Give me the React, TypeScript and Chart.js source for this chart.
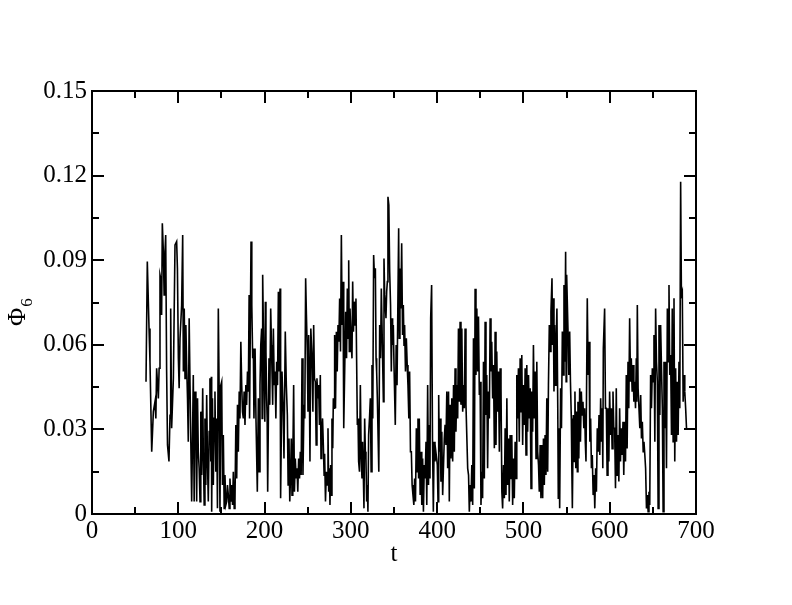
import React, { useEffect, useRef } from "react";
import { Chart, registerables } from "chart.js";

Chart.register(...registerables);

// [t, Φ6] samples, segment by segment
const segment1: [number, number][] = [
  [62.6,0.0469],[64.1,0.0895],[66.1,0.0658],[67.2,0.054],[69.2,0.0221],[71.1,0.0363],[73.0,0.0398],[74.0,0.0339],
  [74.9,0.0517],[76.9,0.041],[77.8,0.0517],[78.8,0.0848],[79.6,0.0836],[80.7,0.0706],[81.5,0.1031],[82.7,0.093],
  [83.6,0.0777],[84.6,0.093],[85.4,0.0989],[86.5,0.0505],[87.5,0.0245],[89.2,0.0186],[90.4,0.035],[91.2,0.0729],
  [92.3,0.0304],[94.3,0.0481],[96.2,0.0954],[98.1,0.0966],[99.0,0.0871],[100.1,0.0552],[101.0,0.0446],[102.0,0.0623],
  [103.9,0.0741],[105.1,0.0989],[105.9,0.0505],[106.9,0.0729],[107.8,0.0481],[108.8,0.067],[109.7,0.0528],[110.7,0.041],
  [111.6,0.0256],[112.6,0.0694],[113.6,0.0457],[115.5,0.0044],[116.4,0.0245],[117.4,0.0493],[118.4,0.0044],[119.4,0.0434],
  [120.4,0.0339],[121.3,0.0044],[122.3,0.041],[123.2,0.0221],[124.2,0.0162],[125.2,0.0044],[126.1,0.0363],[127.1,0.0138],
  [128.3,0.0446],[129.0,0.0221],[130.0,0.0032],[130.9,0.0339],[131.9,0.0103],[132.9,0.0422],[133.9,0.0174],[134.8,0.0044],
  [135.8,0.0292],[136.7,0.0481],[137.7,0.0186],[138.3,0.0487],[138.7,0.0008],[139.6,0.041],[140.6,0.0103],[141.6,0.0339],
  [142.5,0.0434],[143.5,0.015],[144.5,0.0339],[145.4,0.002],[146.4,0.0729],[147.3,0.0457],[148.3,0.0008],[149.3,0.0457],
  [150.3,0.0469],[151.2,0.0103],[152.2,0.028],[153.2,0.002],[154.1,0.0138],[155.1,0.0032],[156.1,0.0044],[157.0,0.0103],
  [158.0,0.0067],[159.0,0.002],[159.9,0.0126],[160.9,0.0044],[161.9,0.0103],[162.9,0.0032],[163.8,0.015],[164.8,0.002],
  [165.7,0.0044],[166.7,0.0316],[167.7,0.0126],[168.6,0.0387],[169.6,0.0221],[170.6,0.0434],[171.5,0.0339],[172.5,0.0611],
  [173.5,0.0457],[174.4,0.0363],[175.4,0.0339],[176.3,0.0434],[177.3,0.0316],[178.3,0.0457],[179.2,0.0387],[180.2,0.0505],
  [181.2,0.0434],[182.1,0.0777],[182.6,0.0339],[184.3,0.0966],[185.2,0.0741],[186.2,0.0552],[187.0,0.0587],[187.7,0.0339],
  [189.0,0.0587],[190.1,0.0327],[191.6,0.0079],[192.8,0.041],[193.7,0.015],[194.7,0.0457],[195.6,0.0599],[196.6,0.0658],
  [197.2,0.0339],[197.8,0.0848],[199.3,0.0505],[200.3,0.0327],[200.9,0.0753],[201.6,0.0576],[202.4,0.041],[203.0,0.0339],
  [203.6,0.0079],[205.1,0.0552],[206.0,0.0387],[207.1,0.0729],[208.0,0.0599],[208.6,0.0505],[209.4,0.0387],[210.2,0.0658],
  [211.2,0.0457],[212.1,0.0505],[213.1,0.0339],[214.0,0.054],[215.0,0.0457],[216.0,0.0788],[217.0,0.0505],[217.9,0.08],
];

const segment2: [number, number][] = [
  [218.6,0.0056],[220.2,0.0505],[221.6,0.0363],[222.5,0.0197],[224.0,0.0647],[225.2,0.0457],[226.4,0.0351],[227.3,0.0103],
  [228.3,0.0268],[229.2,0.0044],[230.2,0.015],[231.0,0.0268],[231.8,0.0067],[232.7,0.0174],[233.7,0.0457],[234.6,0.0079],
  [235.6,0.0197],[236.6,0.0126],[237.6,0.0162],[238.5,0.0079],[239.5,0.0197],[240.5,0.0126],[241.4,0.0221],[242.4,0.0138],
  [243.4,0.0552],[244.5,0.0138],[245.7,0.0387],[246.6,0.0339],[247.6,0.0836],[248.5,0.0706],[249.5,0.0576],[250.3,0.0363],
  [251.1,0.0635],[251.8,0.0505],[252.6,0.0186],[253.6,0.0658],[255.0,0.0552],[256.0,0.0363],[256.9,0.067],[257.8,0.0481],
  [258.8,0.0469],[259.8,0.0245],[260.7,0.0481],[261.7,0.041],[262.7,0.0457],[263.6,0.0316],[264.6,0.0493],[265.4,0.0197],
  [266.2,0.0292],[267.2,0.0339],[268.1,0.0245],[269.0,0.0138],[269.6,0.0214],[270.6,0.0044],[271.6,0.015],[272.5,0.0103],
  [273.5,0.0304],[274.3,0.0079],[275.0,0.0162],[275.8,0.0032],[276.6,0.0174],[277.4,0.0067],[278.1,0.0339],[279.0,0.0233],
  [279.7,0.041],[280.5,0.0375],[281.2,0.0635],[282.2,0.0375],[283.2,0.0646],[284.2,0.0505],[285.1,0.067],[286.1,0.0611],
  [287.0,0.0764],[288.0,0.0576],[289.0,0.0989],[289.9,0.067],[290.9,0.0824],[291.5,0.067],[292.0,0.0304],[294.0,0.0717],
  [295.0,0.0552],[295.9,0.08],[296.7,0.0623],[297.5,0.09],[298.2,0.0576],[299.0,0.0729],[300.5,0.0599],[301.3,0.0552],
  [302.1,0.0824],[303.0,0.0646],[304.0,0.0753],[305.0,0.067],[305.9,0.0764],[306.7,0.054],[307.5,0.0316],[308.3,0.0339],
  [309.0,0.0186],[310.0,0.015],[311.0,0.0457],[312.0,0.0198],[312.9,0.0126],[313.6,0.0256],[314.4,0.015],[315.2,0.002],
  [316.0,0.0339],[316.8,0.0221],[317.5,0.0198],[318.3,0.0044],[319.1,0.0103],[319.8,0.0008],[320.6,0.028],[321.6,0.0339],
  [322.6,0.041],[323.5,0.015],[324.5,0.0528],[325.4,0.0339],[326.4,0.0918],[327.4,0.0836],[328.4,0.0871],[329.2,0.0552],
  [329.9,0.0505],[330.7,0.041],[331.4,0.041],[332.4,0.015],[333.4,0.067],[334.4,0.0552],[335.3,0.08],[336.1,0.067],
  [336.9,0.067],[337.7,0.0398],[338.4,0.0906],[339.2,0.0777],[339.9,0.0741],[340.7,0.0694],[341.5,0.0788],[342.3,0.0824],
  [343.0,0.1125],[344.0,0.1096],[345.0,0.0859],[346.0,0.0741],[346.9,0.0505],[347.7,0.0694],[348.4,0.0599],[349.2,0.067],
  [350.0,0.0528],[351.5,0.0316],[352.5,0.0599],[353.5,0.0457],[355.4,0.1013],[356.1,0.0623],[356.9,0.0871],[357.9,0.0729],
  [358.9,0.096],[359.9,0.0635],[360.8,0.0741],[361.6,0.0599],[362.3,0.067],[363.3,0.0505],[364.3,0.0623],[365.3,0.0528],
  [366.2,0.0457],[367.2,0.0339],[368.1,0.0505],[369.1,0.0221],[370.1,0.0221],[371.0,0.0103],[372.0,0.0067],[373.0,0.0032],
  [373.9,0.0126],[374.9,0.0044],[375.9,0.0304],[376.8,0.015],[377.8,0.0339],[378.5,0.0126],
];

const segment3: [number, number][] = [
  [379.3,0.0339],[380.3,0.0067],[381.3,0.0221],[382.2,0.0032],[383.2,0.0197],[384.1,0.0008],[385.1,0.0174],[386.1,0.0126],
  [387.1,0.0256],[388.0,0.0032],[389.0,0.0457],[390.0,0.0103],[390.9,0.0316],[391.7,0.0126],[392.5,0.0694],[393.6,0.0812],
  [394.6,0.0268],[395.6,0.0008],[396.5,0.0256],[397.5,0.0186],[398.5,0.0221],[399.4,0.0197],[400.2,0.0174],[401.0,0.0044],
  [401.8,0.0422],[402.5,0.0221],[403.4,0.0339],[404.4,0.0114],[405.4,0.0292],[406.4,0.0067],[407.4,0.0174],[408.3,0.0268],
  [409.2,0.0316],[410.2,0.0245],[411.2,0.0434],[412.2,0.0162],[413.2,0.0434],[414.1,0.0044],[415.0,0.0387],[416.0,0.0197],
  [417.0,0.041],[418.0,0.0186],[419.0,0.0457],[419.9,0.0221],[420.8,0.0517],[421.8,0.0292],[422.8,0.0457],[423.8,0.0339],
  [424.7,0.0658],[425.7,0.0398],[426.6,0.0682],[427.6,0.0387],[428.6,0.0658],[429.6,0.0363],[430.5,0.0457],[431.5,0.0375],
  [432.4,0.0658],[433.4,0.0387],[435.4,0.0162],[436.4,0.0138],[437.3,0.0008],[438.3,0.0103],[439.2,0.0044],[440.2,0.0174],
  [441.2,0.0032],[442.1,0.0623],[443.1,0.009],[444.0,0.0799],[445.0,0.0493],[446.0,0.0729],[447.0,0.0505],[447.9,0.07],
  [448.9,0.0422],[449.8,0.0469],[450.8,0.0032],[451.7,0.015],[452.7,0.0056],[453.7,0.054],[454.7,0.0126],[455.6,0.0682],
  [456.6,0.0351],[457.5,0.0493],[458.5,0.0162],[459.5,0.0434],[460.5,0.0339],[461.4,0.0694],[462.4,0.0505],[463.3,0.0611],
  [464.3,0.041],[465.3,0.0528],[466.3,0.0233],[467.2,0.0646],[468.2,0.0245],[469.1,0.0576],[470.1,0.0363],[471.1,0.0505],
  [472.1,0.0221],[473.0,0.0517],[474.0,0.0446],[475.0,0.0079],[475.9,0.002],[476.9,0.0174],[477.9,0.0056],[478.8,0.0304],
  [479.8,0.0067],[480.8,0.041],[481.7,0.0103],[482.7,0.0268],[483.6,0.0044],[484.6,0.028],[485.6,0.0126],[486.5,0.028],
  [487.5,0.0032],[488.5,0.0197],[489.4,0.0056],[490.4,0.0256],[491.4,0.0126],[492.3,0.0493],[493.3,0.0339],[494.2,0.0517],
  [495.2,0.0256],[496.2,0.0552],[497.2,0.0363],[498.1,0.0564],[499.1,0.0245],[500.0,0.0457],[501.0,0.0316],[502.0,0.0517],
  [503.0,0.0209],[503.9,0.0528],[504.9,0.0292],[505.9,0.0493],[506.8,0.0339],[507.8,0.0446],[508.8,0.0091],[509.7,0.0434],
  [510.7,0.0292],[511.6,0.0599],[512.6,0.0339],[513.6,0.0505],[514.6,0.0197],[515.5,0.054],[516.5,0.0221],[517.5,0.0174],
  [518.4,0.0079],[519.4,0.0245],[520.3,0.0056],[521.3,0.0245],[522.3,0.0056],[523.2,0.0268],[524.2,0.0103],[525.1,0.028],
  [526.1,0.0138],[527.1,0.041],[528.1,0.015],[529.0,0.0457],[530.0,0.067],[531.0,0.0576],[531.9,0.0717],[533.1,0.0836],
  [533.8,0.0599],[534.6,0.0765],[535.4,0.0434],[536.2,0.067],[537.0,0.0457],[537.7,0.0576],
];

const segment4: [number, number][] = [
  [538.8,0.0729],[539.8,0.0375],[540.4,0.0056],[541.2,0.0304],[542.0,0.002],[543.1,0.0446],[544.1,0.0304],[545.1,0.0647],
  [546.0,0.0493],[547.0,0.0812],[548.0,0.054],[548.9,0.093],[549.5,0.0469],[550.1,0.0848],[551.6,0.0658],[552.6,0.0493],
  [553.6,0.0647],[554.5,0.0469],[555.5,0.0339],[556.1,0.0162],[556.7,0.002],[557.8,0.0351],[558.8,0.0186],[559.7,0.0434],
  [560.7,0.0162],[561.7,0.0363],[562.5,0.015],[563.2,0.0398],[564.2,0.0197],[565.2,0.0446],[566.1,0.0256],[567.1,0.0434],
  [568.0,0.0351],[569.0,0.0398],[570.0,0.0304],[570.9,0.0375],[571.7,0.0256],[572.5,0.0186],[574.0,0.0765],[575.0,0.0493],
  [576.0,0.0611],[577.0,0.0256],[577.9,0.0339],[578.8,0.0162],[579.8,0.0209],[580.8,0.0067],[581.8,0.0138],[582.7,0.002],
  [583.7,0.0162],[584.6,0.0079],[585.6,0.0304],[586.6,0.0221],[587.6,0.0351],[588.5,0.0209],[589.5,0.041],[590.5,0.0256],
  [591.4,0.0375],[592.0,0.0162],[592.6,0.0587],[594.1,0.0729],[595.1,0.0375],[596.1,0.0375],[597.0,0.0138],[598.0,0.0375],
  [599.0,0.0186],[599.9,0.0434],[600.9,0.028],[601.9,0.0375],[602.8,0.0232],[603.8,0.0434],[604.7,0.0304],[605.7,0.0304],
  [606.7,0.0091],[607.6,0.0446],[608.6,0.0138],[609.6,0.028],[610.6,0.0115],[611.5,0.0375],[612.5,0.0186],[613.4,0.0304],
  [614.4,0.0209],[615.4,0.0327],[616.3,0.0138],[617.3,0.0327],[618.3,0.0186],[619.2,0.0493],[620.2,0.0232],[621.2,0.054],
  [622.1,0.0375],[623.1,0.0694],[624.1,0.0469],[625.0,0.0552],[626.0,0.0434],[627.0,0.0528],[628.0,0.0398],[628.9,0.0469],
  [629.9,0.0375],[630.8,0.0552],[631.4,0.0398],[632.0,0.0741],[632.9,0.0446],[633.9,0.0446],[634.9,0.0304],[635.9,0.0422],
  [636.8,0.0268],[637.8,0.0327],[638.8,0.0221],[639.7,0.0256],[640.7,0.0209],[641.6,0.0162],[642.6,0.002],[643.6,0.0067],
  [644.5,0.0008],[645.5,0.0079],[646.4,0.0032],[647.4,0.0493],[648.4,0.0375],[649.4,0.0517],[650.3,0.0469],[651.3,0.0635],
  [652.3,0.0256],[653.2,0.0729],[654.2,0.054],[655.2,0.0469],[656.1,0.002],[657.1,0.067],[658.1,0.0351],[659.0,0.067],
  [660.0,0.0517],[661.0,0.0375],[661.9,0.0008],[662.9,0.054],[663.8,0.0304],[664.8,0.054],[665.8,0.0162],[666.8,0.0729],
  [667.7,0.054],[668.7,0.0812],[669.6,0.0493],[670.6,0.0564],[671.6,0.028],[672.5,0.0729],[673.5,0.0256],[674.5,0.0765],
  [675.4,0.0186],[676.4,0.0517],[677.4,0.0256],[678.3,0.0469],[679.3,0.028],[680.3,0.054],[681.2,0.0375],[682.2,0.1178],
  [683.1,0.0777],[684.1,0.0788],[685.1,0.0398],[686.1,0.0493],[687.0,0.0434],[688.0,0.0375],[689.0,0.0304],
];

const xTickValues: number[] = [0, 100, 200, 300, 400, 500, 600, 700];
const yTickValues: number[] = [0, 0.03, 0.06, 0.09, 0.12, 0.15];
const xAxisTitle = "t";
const yAxisTitleMain = "Φ";
const yAxisTitleSub = "6";

const SERIF = '"Liberation Serif", "DejaVu Serif", serif';

const framePlugin = {
  id: "xmgraceFrame",
  afterDatasetsDraw(chart: any) {
    const { ctx, chartArea, scales } = chart;
    const { left, right, top, bottom } = chartArea;
    const xs = scales.x;
    const ys = scales.y;
    ctx.save();
    ctx.strokeStyle = "#000";
    ctx.lineWidth = 2;
    ctx.lineCap = "butt";
    ctx.beginPath();
    for (let v = 0; v <= 700; v += 50) {
      const px = Math.round(xs.getPixelForValue(v));
      const len = v % 100 === 0 ? 12 : 7;
      ctx.moveTo(px, bottom);
      ctx.lineTo(px, bottom - len);
      ctx.moveTo(px, top);
      ctx.lineTo(px, top + len);
    }
    for (let i = 0; i <= 10; i++) {
      const v = i * 0.015;
      const py = Math.round(ys.getPixelForValue(v));
      const len = i % 2 === 0 ? 12 : 7;
      ctx.moveTo(left, py);
      ctx.lineTo(left + len, py);
      ctx.moveTo(right, py);
      ctx.lineTo(right - len, py);
    }
    ctx.stroke();
    ctx.strokeRect(left, top, right - left, bottom - top);

    ctx.fillStyle = "#000";
    ctx.font = `25px ${SERIF}`;
    ctx.textAlign = "center";
    ctx.textBaseline = "alphabetic";
    ctx.fillText(xAxisTitle, (left + right) / 2, 561);

    ctx.translate(25, 326);
    ctx.rotate(-Math.PI / 2);
    ctx.textAlign = "left";
    ctx.font = `25px ${SERIF}`;
    ctx.fillText(yAxisTitleMain, 0, 0);
    const w = ctx.measureText(yAxisTitleMain).width;
    ctx.font = `17px ${SERIF}`;
    ctx.fillText(yAxisTitleSub, w + 1, 7);
    ctx.restore();
  },
};

export default function App() {
  const canvasRef = useRef<HTMLCanvasElement | null>(null);

  useEffect(() => {
    const canvas = canvasRef.current;
    if (!canvas) return;
    const points = [...segment1, ...segment2, ...segment3, ...segment4].map(([t, p]) => ({ x: t, y: p }));
    const chart = new Chart(canvas, {
      type: "line",
      data: {
        datasets: [
          {
            data: points,
            borderColor: "#000",
            borderWidth: 1.6,
            pointRadius: 0,
            tension: 0,
            fill: false,
          },
        ],
      },
      options: {
        animation: false,
        responsive: false,
        events: [],
        layout: { padding: { left: 0, top: 91, right: 96, bottom: 0 } },
        plugins: {
          legend: { display: false },
          tooltip: { enabled: false },
          title: { display: false },
        },
        scales: {
          x: {
            type: "linear",
            min: 0,
            max: 700,
            afterFit: (scale: any) => {
              scale.height = 91;
            },
            afterBuildTicks: (scale: any) => {
              scale.ticks = xTickValues.map((v) => ({ value: v }));
            },
            grid: { display: false, drawTicks: false, tickLength: 0 },
            border: { display: false },
            ticks: {
              color: "#000",
              padding: 2,
              maxRotation: 0,
              autoSkip: false,
              font: { family: SERIF, size: 25 },
              callback: (v: any) => String(v),
            },
          },
          y: {
            type: "linear",
            min: 0,
            max: 0.15,
            afterFit: (scale: any) => {
              scale.width = 92;
            },
            afterBuildTicks: (scale: any) => {
              scale.ticks = yTickValues.map((v) => ({ value: v }));
            },
            grid: { display: false, drawTicks: false, tickLength: 0 },
            border: { display: false },
            ticks: {
              color: "#000",
              padding: 5,
              autoSkip: false,
              font: { family: SERIF, size: 25 },
              callback: (v: any) => (Number(v) === 0 ? "0" : Number(v).toFixed(2)),
            },
          },
        },
      },
      plugins: [framePlugin],
    });
    return () => chart.destroy();
  }, []);

  return (
    <div style={{ position: "absolute", left: 0, top: 0, width: 792, height: 605, background: "#fff" }}>
      <canvas ref={canvasRef} width={792} height={605} style={{ display: "block", width: 792, height: 605 }} />
    </div>
  );
}
